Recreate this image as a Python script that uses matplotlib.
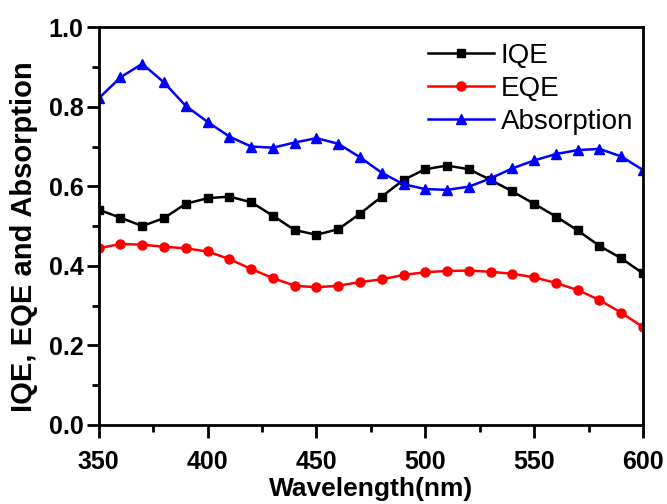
import matplotlib
matplotlib.use("Agg")
import matplotlib.pyplot as plt
import numpy as np

wavelength = np.arange(350, 601, 10)
iqe = [0.541, 0.521, 0.500, 0.520, 0.556, 0.570, 0.574, 0.560, 0.526, 0.490,
       0.478, 0.492, 0.531, 0.574, 0.616, 0.643, 0.652, 0.643, 0.616, 0.587,
       0.556, 0.524, 0.489, 0.450, 0.419, 0.381]
eqe = [0.444, 0.455, 0.453, 0.448, 0.444, 0.436, 0.417, 0.392, 0.369, 0.350,
       0.346, 0.350, 0.359, 0.366, 0.377, 0.384, 0.387, 0.388, 0.385, 0.380,
       0.371, 0.357, 0.339, 0.314, 0.282, 0.246]
absorption = [0.821, 0.874, 0.908, 0.861, 0.802, 0.762, 0.725, 0.700, 0.697, 0.710,
              0.721, 0.707, 0.673, 0.634, 0.605, 0.593, 0.591, 0.599, 0.620, 0.645,
              0.665, 0.681, 0.691, 0.694, 0.675, 0.641]

plt.rcParams['font.family'] = ['Liberation Sans', 'DejaVu Sans']

fig = plt.figure(figsize=(6.67, 5.04), dpi=100)
ax = fig.add_axes([0.148, 0.157, 0.816, 0.789])

ax.plot(wavelength, iqe, color='black', marker='s', markersize=6, linewidth=1.8, label='IQE')
ax.plot(wavelength, eqe, color='red', marker='o', markersize=6.5, linewidth=1.8, label='EQE')
ax.plot(wavelength, absorption, color='blue', marker='^', markersize=7, linewidth=1.8, label='Absorption')

ax.set_xlim(350, 600)
ax.set_ylim(0, 1.0)
ax.set_xticks(range(350, 601, 50))
ax.set_xticks(range(375, 600, 50), minor=True)
ax.set_yticks(np.arange(0, 1.01, 0.2))
ax.set_yticks(np.arange(0.1, 1.0, 0.2), minor=True)
ax.set_yticklabels(['%.1f' % v for v in np.arange(0, 1.01, 0.2)])

for s in ax.spines.values():
    s.set_linewidth(2)
ax.tick_params(which='major', direction='out', length=9, width=2, labelsize=18)
ax.tick_params(axis='y', which='major', pad=2)
ax.tick_params(axis='x', which='major', pad=9)
ax.tick_params(which='minor', direction='out', length=5, width=2)
for lab in ax.get_xticklabels() + ax.get_yticklabels():
    lab.set_fontweight('bold')

ax.set_xlabel('Wavelength(nm)', fontsize=19, fontweight='bold', labelpad=2)
ax.set_ylabel('IQE, EQE and Absorption', fontsize=21, fontweight='bold')
ax.yaxis.set_label_coords(-0.112, 0.474)

ax.legend(loc='upper right', frameon=False, fontsize=20, handlelength=2.35,
          handletextpad=0.25, labelspacing=0.25, borderaxespad=0, borderpad=0.2,
          bbox_to_anchor=(0.992, 0.975))

fig.savefig('out.png', dpi=100)
